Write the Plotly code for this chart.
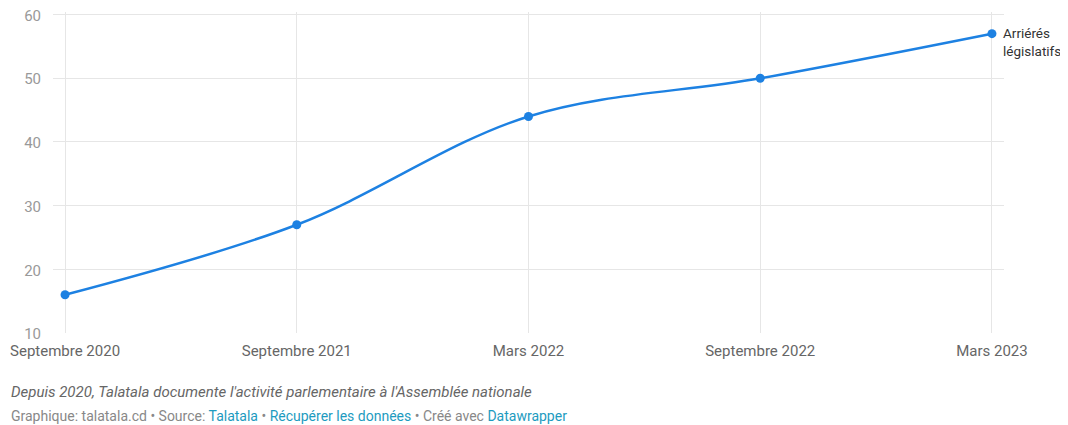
import plotly.graph_objects as go

# données
periodes = ['Septembre 2020', 'Septembre 2021', 'Mars 2022', 'Septembre 2022', 'Mars 2023']
arrieres = [16, 27, 44, 50, 57]
y_ticks = [10, 20, 30, 40, 50, 60]

line_color = '#1d81e2'

fig = go.Figure()
fig.add_trace(go.Scatter(
    x=periodes,
    y=arrieres,
    mode='lines+markers',
    line=dict(color=line_color, width=2.5, shape='spline', smoothing=1),
    marker=dict(color=line_color, size=9),
    showlegend=False,
    hoverinfo='x+y'
))

# étiquette de série
fig.add_annotation(
    x=periodes[-1], y=arrieres[-1], xref='x', yref='y',
    text='Arriérés<br>législatifs', showarrow=False,
    xanchor='left', yanchor='top', xshift=9, yshift=11, align='left',
    font=dict(family='Roboto', size=13.5, color='#333333')
)

# pied de page
fig.add_annotation(
    x=0, y=0, xref='paper', yref='paper', xanchor='left', yanchor='middle',
    xshift=-44, yshift=-59, showarrow=False, align='left',
    text="<i>Depuis 2020, Talatala documente l'activité parlementaire à l'Assemblée nationale</i>",
    font=dict(family='Roboto', size=15, color='#666666')
)
link = '#1d9bc0'
fig.add_annotation(
    x=0, y=0, xref='paper', yref='paper', xanchor='left', yanchor='middle',
    xshift=-44, yshift=-83, showarrow=False, align='left',
    text=("Graphique: talatala.cd • Source: "
          f"<span style='color:{link}'>Talatala</span> • "
          f"<span style='color:{link}'>Récupérer les données</span> • Créé avec "
          f"<span style='color:{link}'>Datawrapper</span>"),
    font=dict(family='Roboto', size=14, color='#888888')
)

# la page ajoute une marge de 8 px autour du graphique
fig.update_layout(
    width=1068, height=425,
    margin=dict(l=45, r=72, t=4, b=100),
    paper_bgcolor='white', plot_bgcolor='white',
    font=dict(family='Roboto', size=15, color='#666666'),
    xaxis=dict(
        type='category', range=[-0.052, 4.052], automargin=False,
        showgrid=True, gridcolor='#e6e6e6', gridwidth=1,
        zeroline=False, showline=False,
        ticks='outside', ticklen=4, tickcolor='rgba(0,0,0,0)',
        tickfont=dict(family='Roboto', size=15, color='#666666')
    ),
    yaxis=dict(
        range=[10, 60.4], tickvals=y_ticks, automargin=False,
        ticklabeloverflow='allow', ticklabelshift=1,
        showgrid=True, gridcolor='#e6e6e6', gridwidth=1,
        zeroline=False, showline=False,
        ticks='outside', ticklen=8, tickcolor='rgba(0,0,0,0)',
        tickfont=dict(family='Roboto', size=15, color='#999999')
    )
)

fig.write_html("out.html")
